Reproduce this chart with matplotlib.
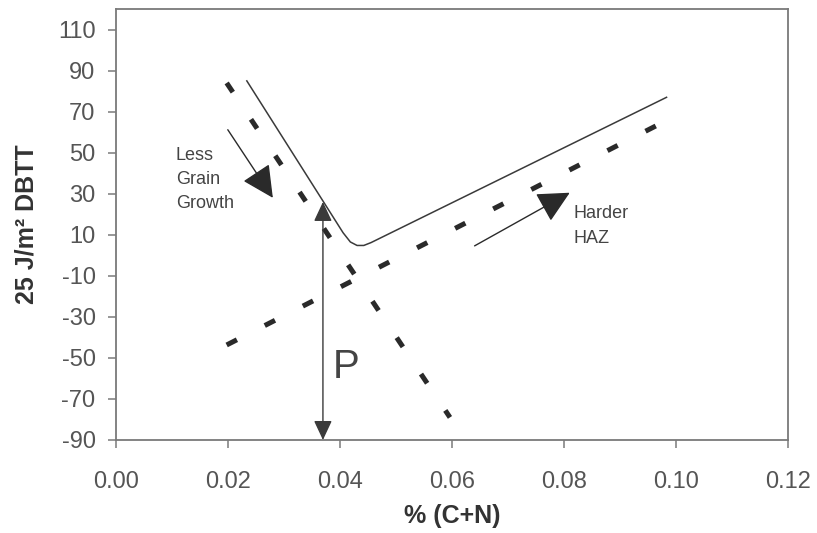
import matplotlib
matplotlib.use("Agg")
import matplotlib.pyplot as plt
from matplotlib.patches import FancyArrowPatch

plt.rcParams["font.family"] = ["Liberation Sans", "DejaVu Sans"]
plt.rcParams["axes.unicode_minus"] = False

# V-shaped DBTT envelope (solid)
envelope_x = [0.0233, 0.0405, 0.0418, 0.0430, 0.0442, 0.0455, 0.0983]
envelope_y = [85.0, 11.0, 6.5, 4.8, 4.8, 6.2, 77.0]

# grain-growth trend (dashed, falling)
grain_x = [0.0197, 0.0596]
grain_y = [84.0, -79.0]

# HAZ hardness trend (dashed, rising)
haz_x = [0.0197, 0.0965]
haz_y = [-43.7, 63.2]

# annotation arrows: (start x, start y, end x, end y)
grain_arrow = (0.0199, 61.2, 0.02795, 28.0)
haz_arrow = (0.0640, 4.6, 0.0810, 30.5)
p_arrow = (0.0369, 26.0, 0.0369, -90.0)

x_ticks = [0.00, 0.02, 0.04, 0.06, 0.08, 0.10, 0.12]
y_ticks = list(range(-90, 111, 20))

fig = plt.figure(figsize=(8.17, 5.33), dpi=100)
ax = fig.add_axes([0.1425, 0.1745, 0.822, 0.8085])

ink = "#2a2a2a"
ax.plot(envelope_x, envelope_y, color="#3a3a3a", lw=1.1, solid_joinstyle="round")
ax.plot(grain_x, grain_y, color=ink, lw=3.6, dashes=(2.22, 6.53))
ax.plot(haz_x, haz_y, color=ink, lw=3.6, dashes=(2.3, 6.25))

for (x0, y0, x1, y1) in (grain_arrow, haz_arrow):
    ax.add_patch(FancyArrowPatch((x0, y0), (x1, y1),
                                 arrowstyle="-|>,head_length=1.0,head_width=0.5",
                                 mutation_scale=20, color=ink, lw=1.0,
                                 shrinkA=0, shrinkB=0))

ax.add_patch(FancyArrowPatch(p_arrow[:2], p_arrow[2:],
                             arrowstyle="<|-|>,head_length=0.6,head_width=0.28",
                             mutation_scale=20, color="#3a3a3a", lw=1.0,
                             shrinkA=0, shrinkB=0, clip_on=False, zorder=5))

ax.text(0.0106, 53.0, "Less\nGrain\nGrowth", fontsize=13, color="#444444",
        ha="left", va="top", linespacing=1.55)
ax.text(0.0817, 24.3, "Harder\nHAZ", fontsize=13, color="#444444",
        ha="left", va="top", linespacing=1.55)
ax.text(0.0411, -54.5, "P", fontsize=29, color="#444444",
        ha="center", va="center")

ax.set_xlim(0.0, 0.12)
ax.set_ylim(-90, 120)
ax.set_xticks(x_ticks)
ax.set_xticklabels([f"{v:.2f}" for v in x_ticks])
ax.set_yticks(y_ticks)

spine_c = "#7a7a7a"
for s in ax.spines.values():
    s.set_color(spine_c)
    s.set_linewidth(1.3)
ax.tick_params(axis="both", direction="out", length=6, width=1.1,
               color=spine_c, labelcolor="#555555", labelsize=17)
ax.tick_params(axis="x", pad=16.5)
ax.tick_params(axis="y", pad=9)

ax.set_xlabel("% (C+N)", fontsize=18, fontweight="bold", color="#333333", labelpad=8)
ax.set_ylabel("25 J/m² DBTT", fontsize=18, fontweight="bold", color="#333333", labelpad=14)

fig.savefig("out.png", dpi=100)
